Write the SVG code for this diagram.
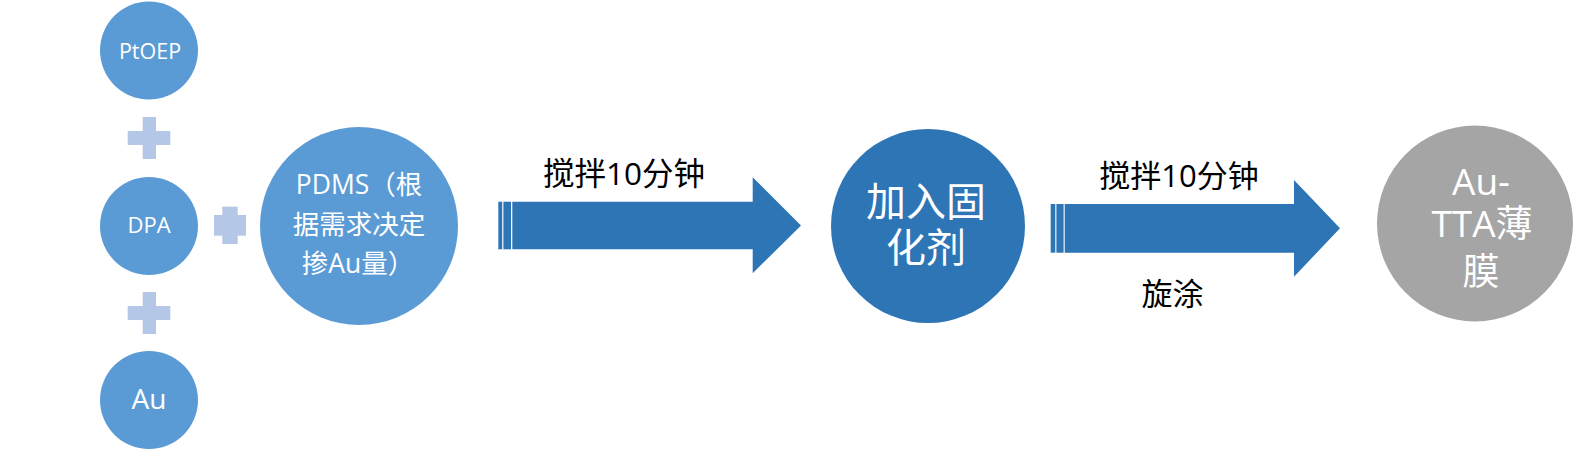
<svg xmlns="http://www.w3.org/2000/svg" width="1580" height="451" viewBox="0 0 1580 451">
<style>
.small{fill:#5B9BD5}
.dark{fill:#2E75B6}
.gray{fill:#A5A5A5}
.plus{fill:#B4C7E7}
.arrow{fill:#2E75B6}
.wt{fill:#FFFFFF;font-family:"Open Sans","Noto Sans CJK SC",sans-serif;text-anchor:middle}
.bt{fill:#000000;font-family:"Open Sans","Noto Sans CJK SC",sans-serif;text-anchor:middle}
</style>
<rect width="1580" height="451" fill="#FFFFFF"/>
<g id="node-ptoep">
<circle class="small" cx="149" cy="50.5" r="49"/>
<text class="wt" x="150" y="59" font-size="21.5">PtOEP</text>
</g>
<g id="plus-1">
<rect class="plus" x="142.7" y="117" width="13.3" height="42"/>
<rect class="plus" x="127.7" y="131" width="42.6" height="14"/>
</g>
<g id="node-dpa">
<circle class="small" cx="149" cy="226" r="49"/>
<text class="wt" x="149" y="233" font-size="22">DPA</text>
</g>
<g id="plus-2">
<rect class="plus" x="142.7" y="292" width="13.3" height="42"/>
<rect class="plus" x="127.7" y="306" width="42.6" height="14"/>
</g>
<g id="node-au">
<circle class="small" cx="149" cy="400" r="49"/>
<text class="wt" x="149" y="409" font-size="28">Au</text>
</g>
<g id="plus-3">
<rect class="plus" x="222.3" y="206.7" width="15.4" height="37.3"/>
<rect class="plus" x="214" y="215" width="32" height="20.7"/>
</g>
<g id="node-pdms">
<circle class="small" cx="359" cy="226" r="99"/>
<text class="wt" font-size="26.5"><tspan x="359" y="194">PDMS（根</tspan><tspan x="359" y="234">据需求决定</tspan><tspan x="358" y="273">掺Au量）</tspan></text>
</g>
<g id="node-curing">
<circle class="dark" cx="928" cy="226" r="97"/>
<text class="wt" font-size="40"><tspan x="926" y="216">加入固</tspan><tspan x="926" y="262">化剂</tspan></text>
</g>
<g id="node-film">
<circle class="gray" cx="1475" cy="223.5" r="98"/>
<text class="wt" font-size="37"><tspan x="1481" y="195">Au-</tspan><tspan x="1482" y="237">TTA薄</tspan><tspan x="1481" y="285">膜</tspan></text>
</g>
<g id="connectors">
<g id="arrow-1">
<rect class="arrow" x="498.3" y="201.7" width="3.9" height="47.6"/>
<rect class="arrow" x="503.4" y="201.7" width="7.6" height="47.6"/>
<polygon class="arrow" points="512.3,201.7 752.7,201.7 752.7,177.3 801,225.5 752.7,273.3 752.7,249.3 512.3,249.3"/>
<text class="bt" x="624" y="185" font-size="31.5">搅拌10分钟</text>
</g>
<g id="arrow-2">
<rect class="arrow" x="1050.7" y="204" width="4.6" height="48.7"/>
<rect class="arrow" x="1056.4" y="204" width="7.2" height="48.7"/>
<polygon class="arrow" points="1064.7,204 1294,204 1294,180 1340,228.3 1294,276.7 1294,252.7 1064.7,252.7"/>
<text class="bt" x="1179" y="187" font-size="31">搅拌10分钟</text>
<text class="bt" x="1172.5" y="305" font-size="31">旋涂</text>
</g>
</g>
</svg>
